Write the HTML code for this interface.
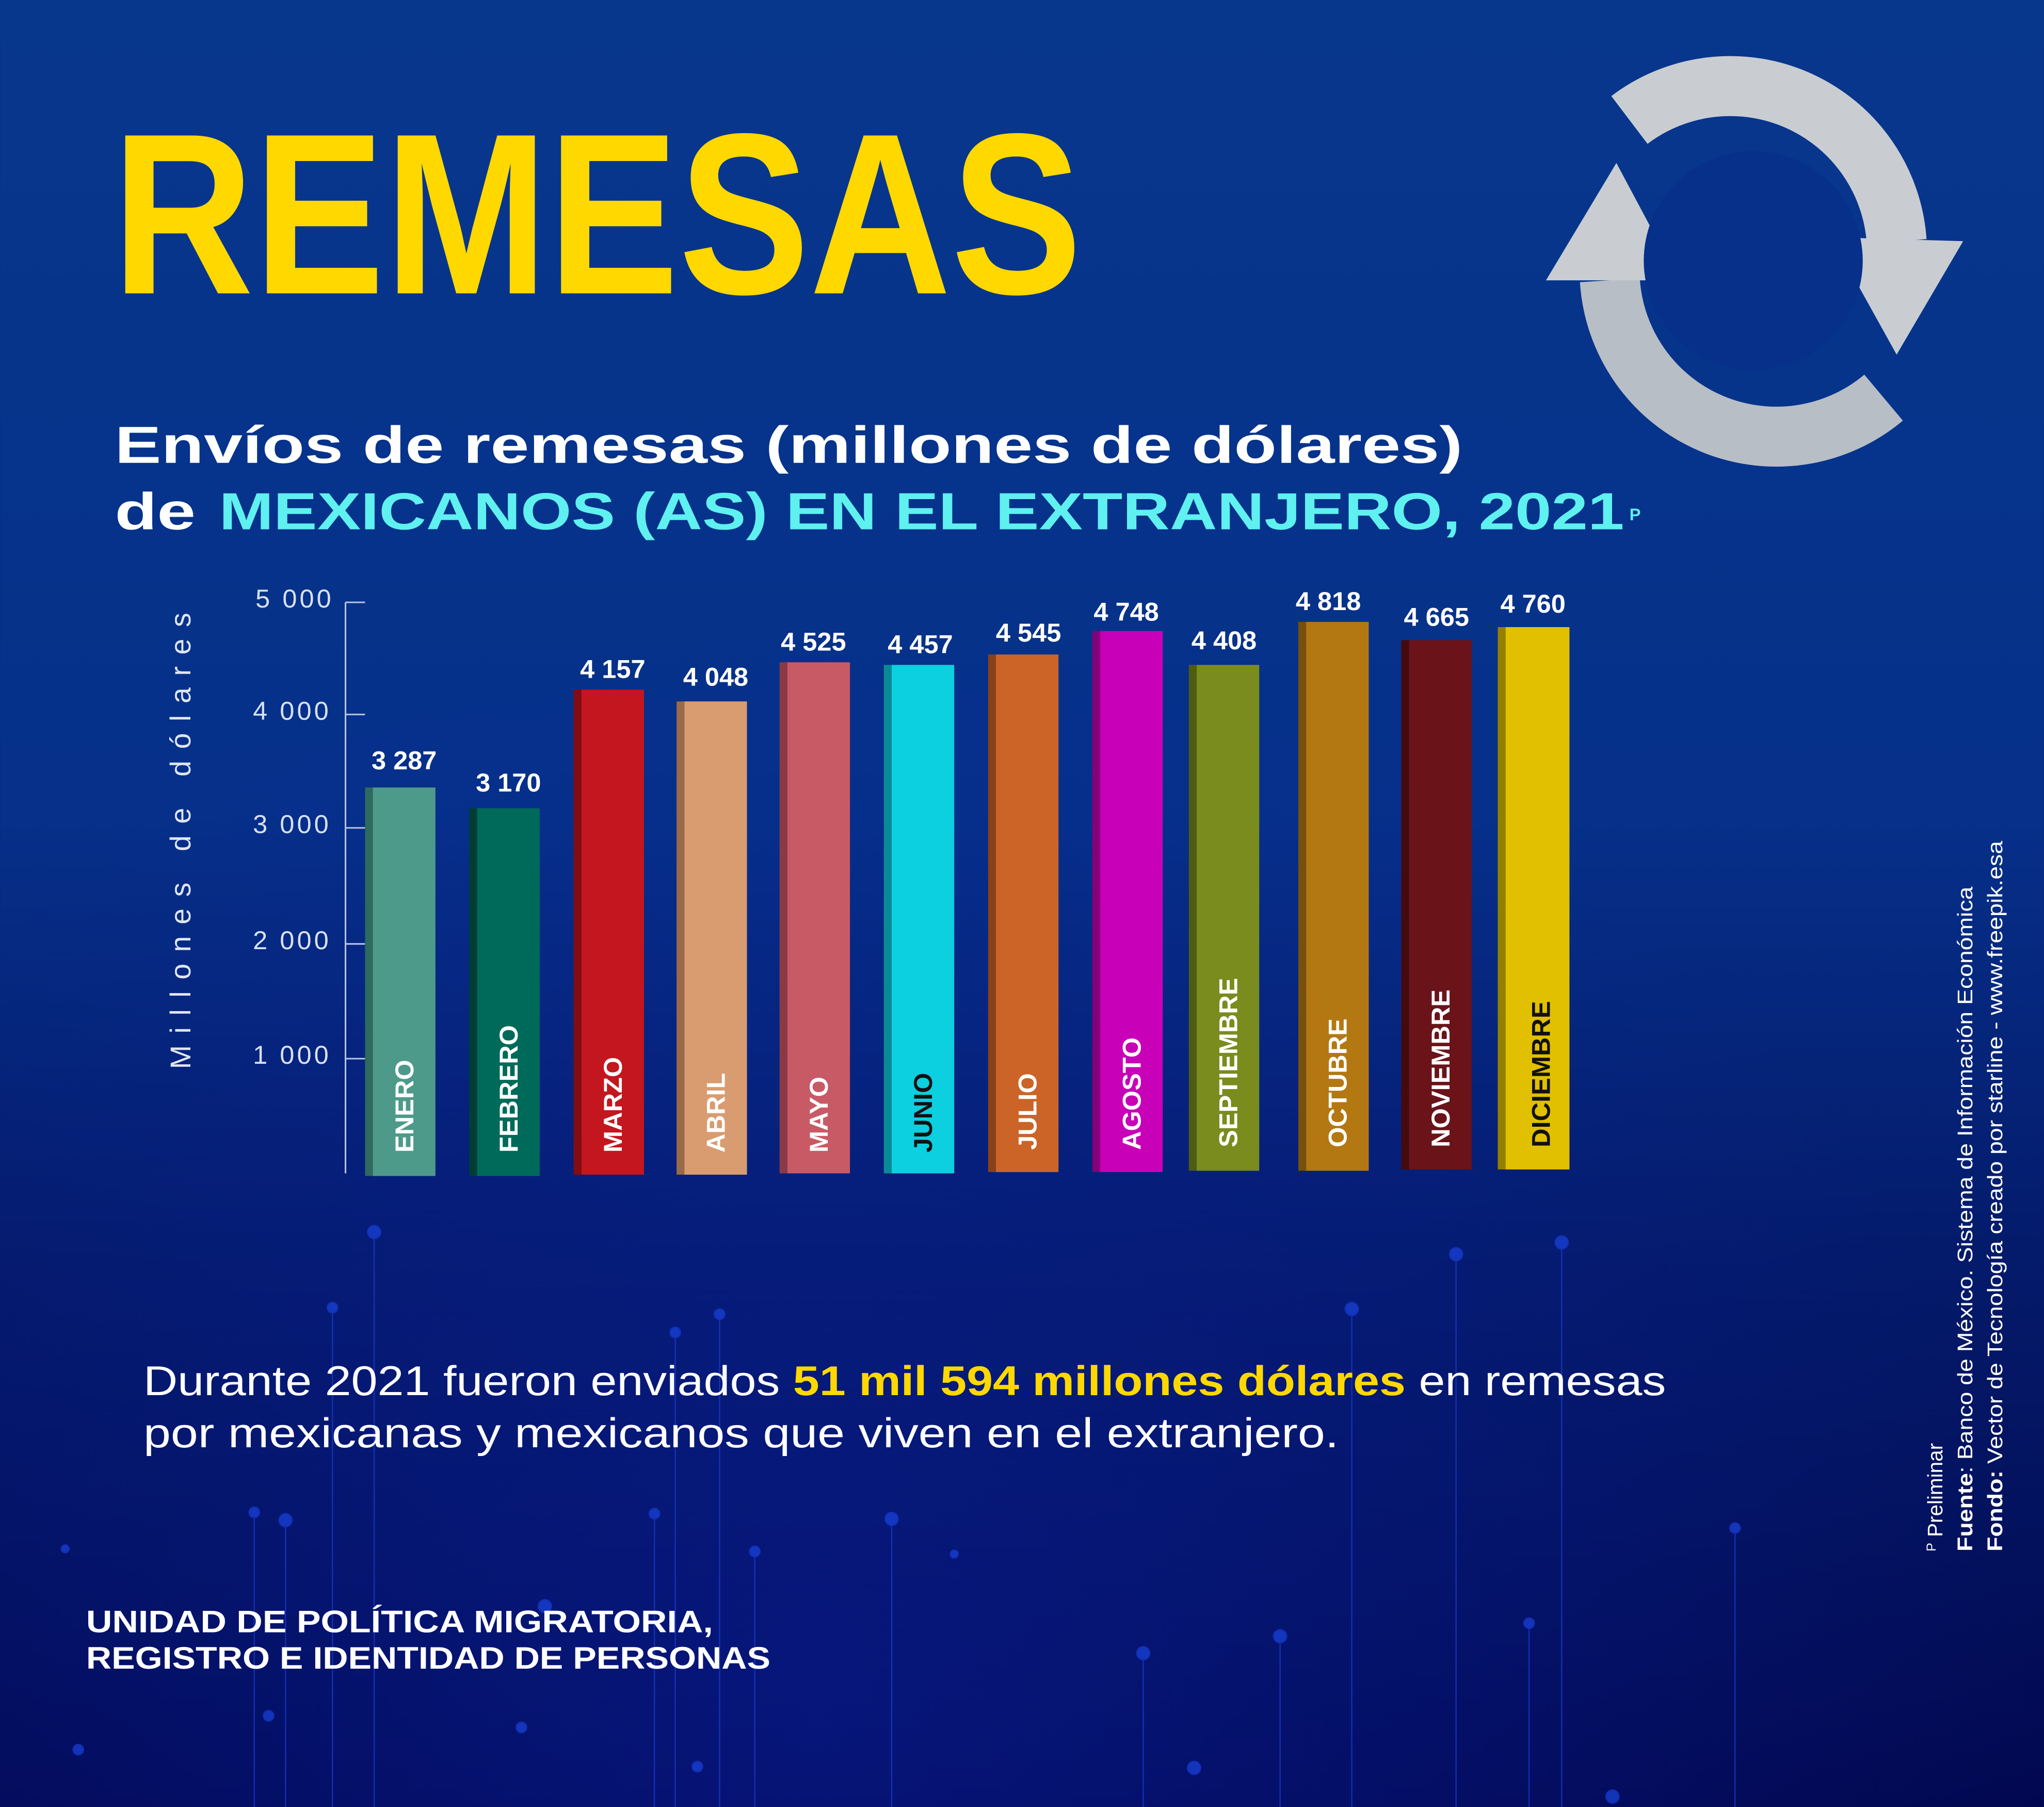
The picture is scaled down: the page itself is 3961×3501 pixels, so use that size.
<!DOCTYPE html>
<html><head><meta charset="utf-8"><style>html,body{margin:0;padding:0;background:#031060}svg{display:block}</style></head>
<body>
<svg width="3961" height="3501" viewBox="0 0 1568 1386" xmlns="http://www.w3.org/2000/svg" font-family="'Liberation Sans', sans-serif">
<defs>
<linearGradient id="bg" x1="0" y1="0" x2="0" y2="1">
<stop offset="0" stop-color="#07378c"/><stop offset="0.45" stop-color="#06308a"/><stop offset="0.7" stop-color="#041a6a"/><stop offset="1" stop-color="#020850"/>
</linearGradient>
<radialGradient id="glow" cx="0.4" cy="0.95" r="0.6"><stop offset="0" stop-color="#0a20a0" stop-opacity="0.5"/><stop offset="1" stop-color="#0a20a0" stop-opacity="0"/></radialGradient>
</defs>
<rect width="1568" height="1386" fill="url(#bg)"/>
<rect width="1568" height="1386" fill="url(#glow)"/>
<g stroke="#1a3ad0" stroke-width="1" opacity="0.7" fill="#1a45e0">
<line x1="287" y1="945" x2="287" y2="1386"/><circle cx="287" cy="945" r="5"/>
<line x1="255" y1="1003" x2="255" y2="1386"/><circle cx="255" cy="1003" r="4"/>
<line x1="552" y1="1008" x2="552" y2="1386"/><circle cx="552" cy="1008" r="4"/>
<line x1="518" y1="1022" x2="518" y2="1386"/><circle cx="518" cy="1022" r="4"/>
<line x1="1037" y1="1004" x2="1037" y2="1386"/><circle cx="1037" cy="1004" r="5"/>
<line x1="1117" y1="962" x2="1117" y2="1386"/><circle cx="1117" cy="962" r="5"/>
<line x1="1198" y1="953" x2="1198" y2="1386"/><circle cx="1198" cy="953" r="5"/>
<line x1="684" y1="1165" x2="684" y2="1386"/><circle cx="684" cy="1165" r="5"/>
<line x1="219" y1="1166" x2="219" y2="1386"/><circle cx="219" cy="1166" r="5"/>
<line x1="195" y1="1160" x2="195" y2="1386"/><circle cx="195" cy="1160" r="4"/>
<line x1="579" y1="1190" x2="579" y2="1386"/><circle cx="579" cy="1190" r="4"/>
<line x1="502" y1="1161" x2="502" y2="1386"/><circle cx="502" cy="1161" r="4"/>
<line x1="877" y1="1268" x2="877" y2="1386"/><circle cx="877" cy="1268" r="5"/>
<line x1="982" y1="1255" x2="982" y2="1386"/><circle cx="982" cy="1255" r="5"/>
<line x1="1331" y1="1172" x2="1331" y2="1386"/><circle cx="1331" cy="1172" r="4"/>
<line x1="1173" y1="1245" x2="1173" y2="1386"/><circle cx="1173" cy="1245" r="4"/>
<circle cx="60" cy="1342" r="4"/><circle cx="206" cy="1316" r="4"/><circle cx="400" cy="1325" r="4"/><circle cx="535" cy="1355" r="4"/><circle cx="916" cy="1356" r="5"/><circle cx="1237" cy="1378" r="5"/><circle cx="418" cy="1232" r="5"/><circle cx="732" cy="1192" r="3"/><circle cx="50" cy="1188" r="3"/>
</g>
<g fill="none" stroke-linecap="butt">
<path d="M1250 92 A128 128 0 0 1 1455 185" stroke="#c9cdd2" stroke-width="46"/>
<polygon points="1405,182 1506,185 1455,272" fill="#c9cdd2"/>
<path d="M1445 305 A128 128 0 0 1 1235 215" stroke="#b8bec6" stroke-width="46"/>
<polygon points="1186,215 1240,125 1288,215" fill="#c9cdd2"/>
<circle cx="1345" cy="200" r="84" fill="#06308a" stroke="none"/>
</g>
<text x="86" y="225" font-size="176" font-weight="900" fill="#ffd800" textLength="744" lengthAdjust="spacingAndGlyphs">REMESAS</text>
<text x="88" y="355" font-size="40" font-weight="bold" fill="#fff" textLength="1034" lengthAdjust="spacingAndGlyphs">Envíos de remesas (millones de dólares)</text>
<text x="88" y="406" font-size="40" font-weight="bold" fill="#fff" textLength="62" lengthAdjust="spacingAndGlyphs">de</text>
<text x="168" y="406" font-size="40" font-weight="bold" fill="#5ff0f0" textLength="1078" lengthAdjust="spacingAndGlyphs">MEXICANOS (AS) EN EL EXTRANJERO, 2021</text>
<text x="1250" y="399" font-size="13" font-weight="bold" fill="#5ff0f0">P</text>
<g stroke="#b8c4e0" stroke-width="1.2">
<line x1="265" y1="462" x2="265" y2="900"/>
<line x1="265" y1="462" x2="280" y2="462"/><line x1="265" y1="548" x2="280" y2="548"/><line x1="265" y1="635" x2="280" y2="635"/><line x1="265" y1="724" x2="280" y2="724"/><line x1="265" y1="812" x2="280" y2="812"/>
</g>
<g font-size="20" fill="#d8e0f4" text-anchor="end" letter-spacing="2">
<text x="256" y="466">5 000</text><text x="254" y="552">4 000</text><text x="254" y="639">3 000</text><text x="254" y="728">2 000</text><text x="254" y="816">1 000</text>
</g>
<text transform="translate(146,645) rotate(-90)" text-anchor="middle" font-size="22" fill="#e0e6f6" textLength="350" lengthAdjust="spacing">Millones de dólares</text>
<g font-weight="bold" font-size="20">
<g><rect x="280" y="604" width="6" height="298" fill="#2e6a5e"/><rect x="286" y="604" width="48" height="298" fill="#4e9a8a"/><text x="310" y="590" fill="#fff" text-anchor="middle">3 287</text><text transform="translate(317,884) rotate(-90)" fill="#fff">ENERO</text></g>
<g><rect x="360" y="620" width="6" height="282" fill="#003e34"/><rect x="366" y="620" width="48" height="282" fill="#006a5a"/><text x="390" y="607" fill="#fff" text-anchor="middle">3 170</text><text transform="translate(397,884) rotate(-90)" fill="#fff">FEBRERO</text></g>
<g><rect x="440" y="529" width="6" height="372" fill="#820c12"/><rect x="446" y="529" width="48" height="372" fill="#c4161e"/><text x="470" y="520" fill="#fff" text-anchor="middle">4 157</text><text transform="translate(477,884) rotate(-90)" fill="#fff">MARZO</text></g>
<g><rect x="519" y="538" width="6" height="363" fill="#9a6a48"/><rect x="525" y="538" width="48" height="363" fill="#d89c70"/><text x="549" y="526" fill="#fff" text-anchor="middle">4 048</text><text transform="translate(556,884) rotate(-90)" fill="#fff">ABRIL</text></g>
<g><rect x="598" y="508" width="6" height="392" fill="#8a3a44"/><rect x="604" y="508" width="48" height="392" fill="#c85a66"/><text x="624" y="499" fill="#fff" text-anchor="middle">4 525</text><text transform="translate(635,884) rotate(-90)" fill="#fff">MAYO</text></g>
<g><rect x="678" y="510" width="6" height="390" fill="#0a8a96"/><rect x="684" y="510" width="48" height="390" fill="#0ccfdf"/><text x="706" y="501" fill="#fff" text-anchor="middle">4 457</text><text transform="translate(715,884) rotate(-90)" fill="#111">JUNIO</text></g>
<g><rect x="758" y="502" width="6" height="397" fill="#8a4018"/><rect x="764" y="502" width="48" height="397" fill="#cc6428"/><text x="789" y="492" fill="#fff" text-anchor="middle">4 545</text><text transform="translate(795,882) rotate(-90)" fill="#fff">JULIO</text></g>
<g><rect x="838" y="484" width="6" height="415" fill="#86007a"/><rect x="844" y="484" width="48" height="415" fill="#c800b8"/><text x="864" y="476" fill="#fff" text-anchor="middle">4 748</text><text transform="translate(875,882) rotate(-90)" fill="#fff">AGOSTO</text></g>
<g><rect x="912" y="510" width="6" height="388" fill="#4e5c12"/><rect x="918" y="510" width="48" height="388" fill="#7a8c1e"/><text x="939" y="498" fill="#fff" text-anchor="middle">4 408</text><text transform="translate(949,880) rotate(-90)" fill="#fff">SEPTIEMBRE</text></g>
<g><rect x="996" y="477" width="6" height="421" fill="#76500c"/><rect x="1002" y="477" width="48" height="421" fill="#b47812"/><text x="1019" y="468" fill="#fff" text-anchor="middle">4 818</text><text transform="translate(1033,880) rotate(-90)" fill="#fff">OCTUBRE</text></g>
<g><rect x="1075" y="491" width="6" height="406" fill="#440a0e"/><rect x="1081" y="491" width="48" height="406" fill="#6a141a"/><text x="1102" y="480" fill="#fff" text-anchor="middle">4 665</text><text transform="translate(1112,880) rotate(-90)" fill="#fff">NOVIEMBRE</text></g>
<g><rect x="1149" y="481" width="6" height="416" fill="#948000"/><rect x="1155" y="481" width="49" height="416" fill="#e0c000"/><text x="1176" y="470" fill="#fff" text-anchor="middle">4 760</text><text transform="translate(1189,880) rotate(-90)" fill="#111">DICIEMBRE</text></g>
</g>
<text x="110" y="1070" font-size="32" fill="#fff" textLength="1168" lengthAdjust="spacingAndGlyphs">Durante 2021 fueron enviados <tspan fill="#ffd800" font-weight="bold">51 mil 594 millones dólares</tspan> en remesas</text>
<text x="110" y="1110" font-size="32" fill="#fff" textLength="917" lengthAdjust="spacingAndGlyphs">por mexicanas  y mexicanos que viven en el extranjero.</text>
<text x="66" y="1252" font-size="24" font-weight="bold" fill="#fff" textLength="481" lengthAdjust="spacingAndGlyphs">UNIDAD DE POLÍTICA MIGRATORIA,</text>
<text x="66" y="1280" font-size="24" font-weight="bold" fill="#fff" textLength="525" lengthAdjust="spacingAndGlyphs">REGISTRO E IDENTIDAD DE PERSONAS</text>
<g font-size="16" fill="#fff">
<text transform="translate(1490,1190) rotate(-90)"><tspan font-size="10" dy="-5">P</tspan><tspan dy="5"> Preliminar</tspan></text>
<text transform="translate(1513,1190) rotate(-90)" textLength="510" lengthAdjust="spacingAndGlyphs"><tspan font-weight="bold">Fuente</tspan>: Banco de México. Sistema de Información Económica</text>
<text transform="translate(1536,1190) rotate(-90)" textLength="545" lengthAdjust="spacingAndGlyphs"><tspan font-weight="bold">Fondo:</tspan> Vector de Tecnología creado por starline - www.freepik.esa</text>
</g>
</svg>
</body></html>
